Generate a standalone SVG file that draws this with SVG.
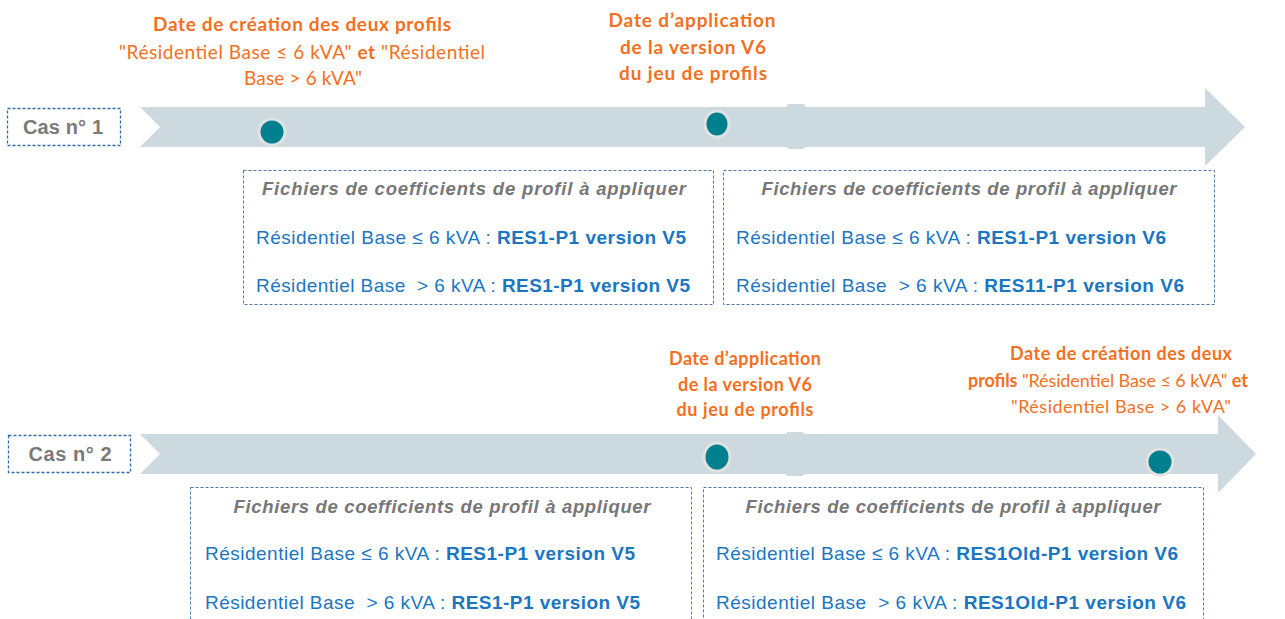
<svg xmlns="http://www.w3.org/2000/svg" width="1285" height="619" viewBox="0 0 1285 619">
<style>
.band{fill:#ccd9de}
.dot{fill:#00808f;stroke:#e2e2e2;stroke-width:3}
.case{fill:#fff;stroke:#2e6aa8;stroke-width:1.3;stroke-dasharray:3,2}
.casetxt{font-family:"Liberation Sans",Arial,sans-serif;font-weight:bold;font-size:20px;fill:#7a7a7a;text-anchor:middle}
.box{fill:#fff;stroke:#4a78a8;stroke-width:1;stroke-dasharray:3,2}
.title{font-family:"Liberation Sans",Arial,sans-serif;font-weight:bold;font-style:italic;font-size:18.5px;fill:#777;text-anchor:middle}
.line{font-family:"Liberation Sans",Arial,sans-serif;font-size:19px;fill:#1b76c2;white-space:pre}
.b{font-weight:bold}
.or{font-family:Lato,"Open Sans",sans-serif;font-size:19px;fill:#f5701e;text-anchor:middle}
.orb{font-weight:bold}
</style>
<rect width="1285" height="619" fill="#fff"/>
<g id="connectors">
<polygon class="band" points="140,107 1205,107 1205,88 1245,127 1205,166 1205,147 140,147 160,127"/>
<rect class="band" x="787" y="104" width="18" height="45" rx="2"/>
<polygon class="band" points="140,434 1218,434 1218,415 1256,454 1218,493 1218,474 140,474 160,454"/>
<rect class="band" x="786" y="432" width="18" height="44" rx="2"/>
</g>
<g id="case1">
<rect class="case" x="7.5" y="108.5" width="113" height="37"/>
<text class="casetxt" x="63" y="134" textLength="80" lengthAdjust="spacing">Cas n° 1</text>
</g>
<g id="case2">
<rect class="case" x="8.5" y="435.5" width="122" height="37"/>
<text class="casetxt" x="70" y="461" textLength="83" lengthAdjust="spacing">Cas n° 2</text>
</g>
<g id="dot1a"><circle class="dot" cx="272" cy="132" r="13"/></g>
<g id="dot1b"><ellipse class="dot" cx="717" cy="124" rx="12" ry="13"/></g>
<g id="dot2a"><ellipse class="dot" cx="717" cy="457" rx="13" ry="14"/></g>
<g id="dot2b"><circle class="dot" cx="1160" cy="462" r="13"/></g>
<g id="label1a">
<text class="or orb" x="302" y="31" textLength="298" lengthAdjust="spacing">Date de création des deux profils</text>
<text class="or" x="302" y="59" textLength="366" lengthAdjust="spacing">"Résidentiel Base ≤ 6 kVA" <tspan class="orb">et</tspan> "Résidentiel</text>
<text class="or" x="303" y="85" textLength="118" lengthAdjust="spacing">Base &gt; 6 kVA"</text>
</g>
<g id="label1b">
<text class="or orb" x="692" y="27" textLength="167" lengthAdjust="spacing">Date d’application</text>
<text class="or orb" x="693" y="54" textLength="146" lengthAdjust="spacing">de la version V6</text>
<text class="or orb" x="693" y="80" textLength="148" lengthAdjust="spacing">du jeu de profils</text>
</g>
<g id="label2a">
<text class="or orb" x="745" y="365" style="font-size:18px" textLength="152" lengthAdjust="spacing">Date d’application</text>
<text class="or orb" x="745" y="391" style="font-size:18px" textLength="134" lengthAdjust="spacing">de la version V6</text>
<text class="or orb" x="745" y="416" style="font-size:18px" textLength="137" lengthAdjust="spacing">du jeu de profils</text>
</g>
<g id="label2b">
<text class="or orb" x="1121" y="360" style="font-size:18px" textLength="222" lengthAdjust="spacing">Date de création des deux</text>
<text class="or" x="1108" y="387" style="font-size:18px" textLength="280" lengthAdjust="spacing"><tspan class="orb">profils</tspan> "Résidentiel Base ≤ 6 kVA" <tspan class="orb">et</tspan></text>
<text class="or" x="1121" y="413" style="font-size:18px" textLength="220" lengthAdjust="spacing">"Résidentiel Base &gt; 6 kVA"</text>
</g>
<g id="box1">
<rect class="box" x="243.5" y="170.5" width="470" height="134"/>
<text class="title" x="474" y="195" textLength="424" lengthAdjust="spacing">Fichiers de coefficients de profil à appliquer</text>
<text class="line" x="256" y="244" textLength="430" lengthAdjust="spacing">Résidentiel Base ≤ 6 kVA : <tspan class="b">RES1-P1 version V5</tspan></text>
<text class="line" x="256" y="292" textLength="434" lengthAdjust="spacing" xml:space="preserve">Résidentiel Base  &gt; 6 kVA : <tspan class="b">RES1-P1 version V5</tspan></text>
</g>
<g id="box2">
<rect class="box" x="723.5" y="170.5" width="491" height="134"/>
<text class="title" x="969" y="195" textLength="415" lengthAdjust="spacing">Fichiers de coefficients de profil à appliquer</text>
<text class="line" x="736" y="244" textLength="430" lengthAdjust="spacing">Résidentiel Base ≤ 6 kVA : <tspan class="b">RES1-P1 version V6</tspan></text>
<text class="line" x="736" y="292" textLength="448" lengthAdjust="spacing" xml:space="preserve">Résidentiel Base  &gt; 6 kVA : <tspan class="b">RES11-P1 version V6</tspan></text>
</g>
<g id="box3">
<rect class="box" x="190.5" y="487.5" width="501" height="140"/>
<text class="title" x="442" y="513" textLength="417" lengthAdjust="spacing">Fichiers de coefficients de profil à appliquer</text>
<text class="line" x="205" y="560" textLength="430" lengthAdjust="spacing">Résidentiel Base ≤ 6 kVA : <tspan class="b">RES1-P1 version V5</tspan></text>
<text class="line" x="205" y="609" textLength="435" lengthAdjust="spacing" xml:space="preserve">Résidentiel Base  &gt; 6 kVA : <tspan class="b">RES1-P1 version V5</tspan></text>
</g>
<g id="box4">
<rect class="box" x="703.5" y="487.5" width="500" height="140"/>
<text class="title" x="953" y="513" textLength="415" lengthAdjust="spacing">Fichiers de coefficients de profil à appliquer</text>
<text class="line" x="716" y="560" textLength="462" lengthAdjust="spacing">Résidentiel Base ≤ 6 kVA : <tspan class="b">RES1Old-P1 version V6</tspan></text>
<text class="line" x="716" y="609" textLength="470" lengthAdjust="spacing" xml:space="preserve">Résidentiel Base  &gt; 6 kVA : <tspan class="b">RES1Old-P1 version V6</tspan></text>
</g>
</svg>
